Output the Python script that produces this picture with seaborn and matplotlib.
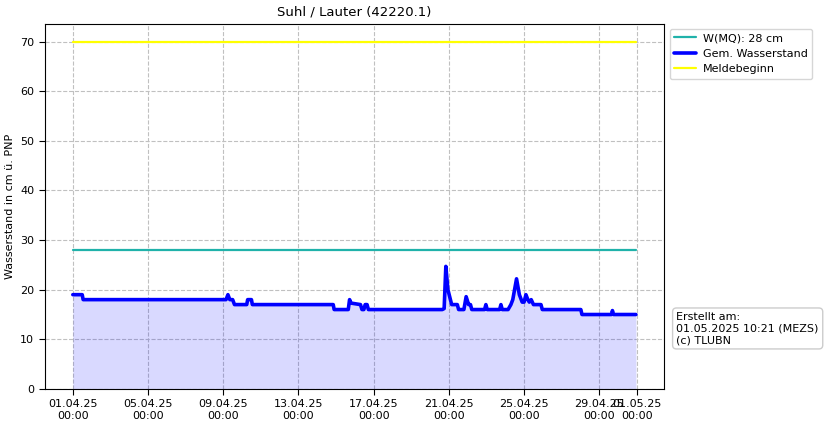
import numpy as np
import pandas as pd
import matplotlib
matplotlib.use("Agg")
import matplotlib.pyplot as plt
import seaborn as sns

# Gemessener Wasserstand (Tage ab 01.04.2025 00:00, cm)
days = [0, 0.5, 0.55, 8.15, 8.25, 8.35, 8.5, 8.6, 9.25, 9.3, 9.5, 9.55, 13.85, 13.9,
        14.65, 14.72, 14.8, 15.3, 15.38, 15.48, 15.55, 15.65, 15.72, 19.65, 19.75,
        19.84, 19.95, 20.05, 20.15, 20.45, 20.52, 20.8, 20.92, 21.05, 21.15, 21.22,
        21.9, 21.97, 22.04, 22.7, 22.77, 22.84, 23.15, 23.3, 23.4, 23.6, 23.75, 23.9,
        24.0, 24.1, 24.2, 24.28, 24.38, 24.5, 24.9, 24.97, 27.02, 27.08, 28.65, 28.7,
        28.76, 29.95]
level = [19, 19, 18, 18, 19, 18, 18, 17, 17, 18, 18, 17, 17, 16,
         16, 18, 17.3, 17, 16, 16, 17, 17, 16, 16, 16.2,
         24.7, 20, 18.5, 17, 17, 16, 16, 18.6, 17, 17, 16,
         16, 17, 16, 16, 17, 16, 16, 17, 18, 22.2, 19, 17.5,
         17.5, 19, 18, 17.5, 18, 17, 17, 16, 16, 15, 15, 15.8,
         15, 15]

mq_value = 28
melde_value = 70
tick_days = [0, 4, 8, 12, 16, 20, 24, 28, 30]

start = pd.Timestamp("2025-04-01 00:00")
df = pd.DataFrame({
    "zeit": [start + pd.Timedelta(days=d) for d in days],
    "stand": level,
})
t0 = df["zeit"].iloc[0]
t1 = df["zeit"].iloc[-1]

sns.set_style("ticks", {"axes.grid": True, "grid.linestyle": "--", "grid.color": "#c0c0c0",
                        "axes.edgecolor": "black", "text.color": "black",
                        "axes.labelcolor": "black", "xtick.color": "black",
                        "ytick.color": "black"})
plt.rcParams["font.family"] = ["DejaVu Sans"]
plt.rcParams["font.size"] = 8

fig = plt.figure(figsize=(8.27, 4.26), dpi=100)
ax = fig.add_axes([0.054, 0.087, 0.749, 0.856])

ax.plot([t0, t1], [mq_value, mq_value], color="#20b2aa", lw=1.6, label="W(MQ): 28 cm")
sns.lineplot(data=df, x="zeit", y="stand", color="blue", lw=2.6, ax=ax,
             label="Gem. Wasserstand")
ax.plot([t0, t1], [melde_value, melde_value], color="yellow", lw=1.6, label="Meldebeginn")
ax.fill_between(df["zeit"], df["stand"], color="blue", alpha=0.15, lw=0)

ticks = [start + pd.Timedelta(days=d) for d in tick_days]
ax.set_xticks(ticks)
ax.set_xticklabels([t.strftime("%d.%m.%y\n%H:%M") for t in ticks])
ax.set_ylim(0, 73.5)
ax.set_yticks(range(0, 71, 10))
ax.tick_params(labelsize=8, length=4, direction="out")

ax.set_title("Suhl / Lauter (42220.1)", fontsize=9.5)
ax.set_xlabel("")
ax.set_ylabel("Wasserstand in cm ü. PNP", fontsize=8)

ax.legend(loc="upper left", bbox_to_anchor=(1.002, 1.0), fontsize=8, frameon=True,
          borderaxespad=0.4, handlelength=2.0, handletextpad=0.6)

fig.text(0.818, 0.19, "Erstellt am:\n01.05.2025 10:21 (MEZS)\n(c) TLUBN", fontsize=8,
         va="bottom", ha="left",
         bbox=dict(boxstyle="round,pad=0.35", fc="white", ec="#cccccc"))

fig.savefig("out.png", dpi=100)
